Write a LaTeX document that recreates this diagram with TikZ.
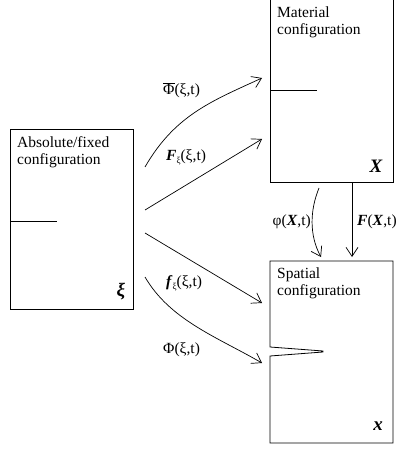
\documentclass[tikz,border=0pt]{standalone}
\usepackage{fontspec}
\setmainfont{Liberation Serif}
\usetikzlibrary{arrows.meta}
\begin{document}
\begin{tikzpicture}[x=1pt,y=-1pt,
  box/.style={line width=0.8pt},
  conn/.style={line width=0.7pt,-{Straight Barb[length=9pt,width=12pt]}},
  lbl/.style={inner sep=0pt,font=\fontsize{15.5}{17.5}\selectfont},
  title/.style={inner sep=0pt,anchor=north west,align=left,font=\fontsize{15.5}{17.5}\selectfont},
  sym/.style={inner sep=0pt,font=\fontsize{19}{19}\selectfont\bfseries\itshape}]
\useasboundingbox (0,0) rectangle (400,449);
% boxes
\draw[box] (270,-1) -- (270,182) -- (393,182) -- (393,-1);
\draw[box] (270,90) -- (317,90);
\draw[box] (10,129) rectangle (133,309);
\draw[box] (10,221) -- (57,221);
\draw[box] (270,347) -- (270,261) -- (393,261) -- (393,443) -- (270,443) -- (270,356) -- (323,352) -- (323,351) -- cycle;
% texts
\node[title] (mt) at (277,6.5) {Material\\configuration};
\node[title] (at) at (17,136) {Absolute/fixed\\configuration};
\node[title] (st) at (277,267.5) {Spatial\\configuration};
\node[sym,anchor=base] (X) at (376,172) {X};
\node[sym,anchor=base] (x) at (378,430) {x};
\node[sym] (xi) at (121,292) {ξ};
% connector ends
\coordinate (a1s) at (145,167); \coordinate (a1e) at (262,78);
\coordinate (a2s) at (145,210); \coordinate (a2e) at (262,139);
\coordinate (a3s) at (145,233); \coordinate (a3e) at (262,303);
\coordinate (a4s) at (145,277); \coordinate (a4e) at (262,363);
\coordinate (a5s) at (319,188); \coordinate (a5e) at (321,257);
\coordinate (a6s) at (352,183); \coordinate (a6e) at (352,257);
% connectors
\draw[conn] (a1s) .. controls (175,115) and (212,101) .. (a1e);
\draw[conn] (a2s) -- (a2e);
\draw[conn] (a3s) -- (a3e);
\draw[conn] (a4s) .. controls (170,320) and (217,337) .. (a4e);
\draw[conn] (a5s) .. controls (310,210) and (309,235) .. (a5e);
\draw[conn] (a6s) -- (a6e);
% labels
\node[lbl,anchor=west] (l1) at (163,90) {$\overline{\hbox{Φ}}$(ξ,t)};
\node[lbl,anchor=west] (l2) at (166,157) {\textbf{\textit{F}}\raisebox{-3pt}{\fontsize{9}{9}\selectfont ξ}(ξ,t)};
\node[lbl,anchor=west] (l3) at (166,283) {\textbf{\textit{f}}\raisebox{-3pt}{\fontsize{9}{9}\selectfont ξ}(ξ,t)};
\node[lbl,anchor=west] (l4) at (163,350) {Φ(ξ,t)};
\node[lbl,anchor=east] (l5) at (311,222) {φ(\textbf{\textit{X}},t)};
\node[lbl,anchor=west] (l6) at (357,222) {\textbf{\textit{F}}(\textbf{\textit{X}},t)};
\end{tikzpicture}
\end{document}
